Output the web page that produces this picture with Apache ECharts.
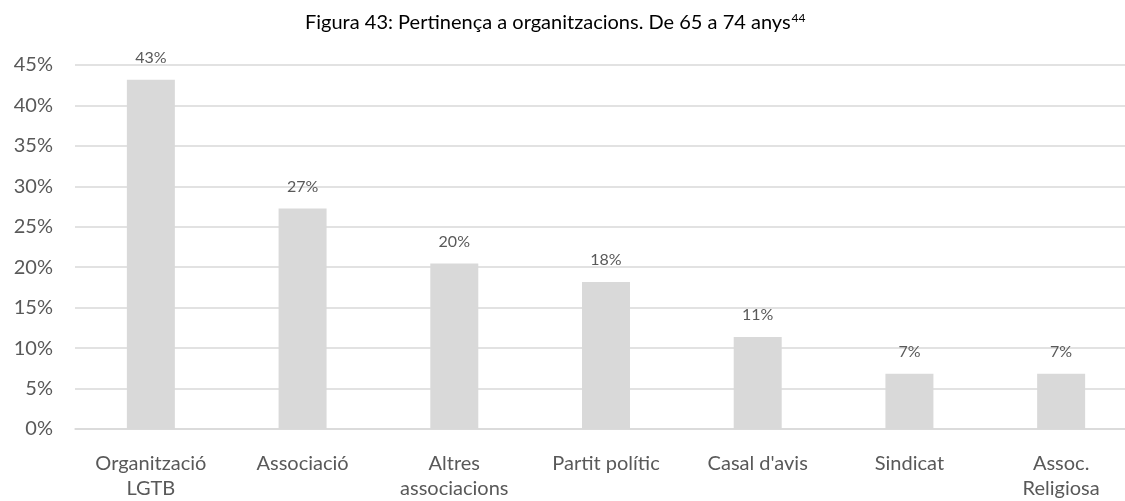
<!DOCTYPE html>
<html>
<head>
<meta charset="utf-8">
<script src="https://cdn.jsdelivr.net/npm/echarts@6/dist/echarts.min.js"></script>
<style>
  html, body { margin: 0; padding: 0; background: #ffffff; }
  #chart { width: 1125px; height: 501px; }
</style>
</head>
<body>
<div id="chart"></div>
<script>
// Pertinença a organitzacions, persones de 65 a 74 anys (n = 44)
const categories = [
  'Organització\nLGTB',
  'Associació',
  'Altres\nassociacions',
  'Partit polític',
  "Casal d'avis",
  'Sindicat',
  'Assoc.\nReligiosa'
];
const percentages = [43.18, 27.27, 20.45, 18.18, 11.36, 6.82, 6.82];
const yTicks = { min: 0, max: 45, interval: 5 };

const FONT = 'Lato, "Open Sans", sans-serif';
const TEXT = '#595959';
const LINE = '#d9d9d9';

const chart = echarts.init(document.getElementById('chart'), null, { renderer: 'canvas' });
chart.setOption({
  backgroundColor: '#ffffff',
  animation: false,
  title: {
    text: '{t|Figura 43: Pertinença a organitzacions. De 65 a 74 anys}{s|44}',
    left: 300,
    top: 7,
    textStyle: {
      rich: {
        t: { fontFamily: FONT, fontSize: 20, fontWeight: 'normal', color: '#000000' },
        s: { fontFamily: FONT, fontSize: 12, fontWeight: 'normal', color: '#000000', verticalAlign: 'top', padding: [0, 0, 9, 1] }
      }
    }
  },
  grid: { left: 75, top: 65, right: -12, bottom: 72, outerBoundsMode: 'none', containLabel: false },
  xAxis: {
    type: 'category',
    data: categories,
    axisLine: { show: true, lineStyle: { color: LINE, width: 1.5 } },
    axisTick: { show: false },
    axisLabel: {
      interval: 0,
      margin: 22,
      fontFamily: FONT,
      fontSize: 20,
      lineHeight: 25,
      color: TEXT
    }
  },
  yAxis: {
    type: 'value',
    min: yTicks.min,
    max: yTicks.max,
    interval: yTicks.interval,
    axisLine: { show: false },
    axisTick: { show: false },
    splitLine: { lineStyle: { color: LINE, width: 1.5 } },
    axisLabel: {
      margin: 22,
      fontFamily: FONT,
      fontSize: 20,
      color: TEXT,
      formatter: v => v + '%'
    }
  },
  series: [{
    type: 'bar',
    data: percentages,
    barWidth: 48,
    itemStyle: { color: '#d9d9d9' },
    label: {
      show: true,
      position: 'top',
      distance: 14,
      fontFamily: FONT,
      fontSize: 16,
      color: TEXT,
      formatter: p => Math.round(p.value) + '%'
    }
  }]
});
</script>
</body>
</html>
